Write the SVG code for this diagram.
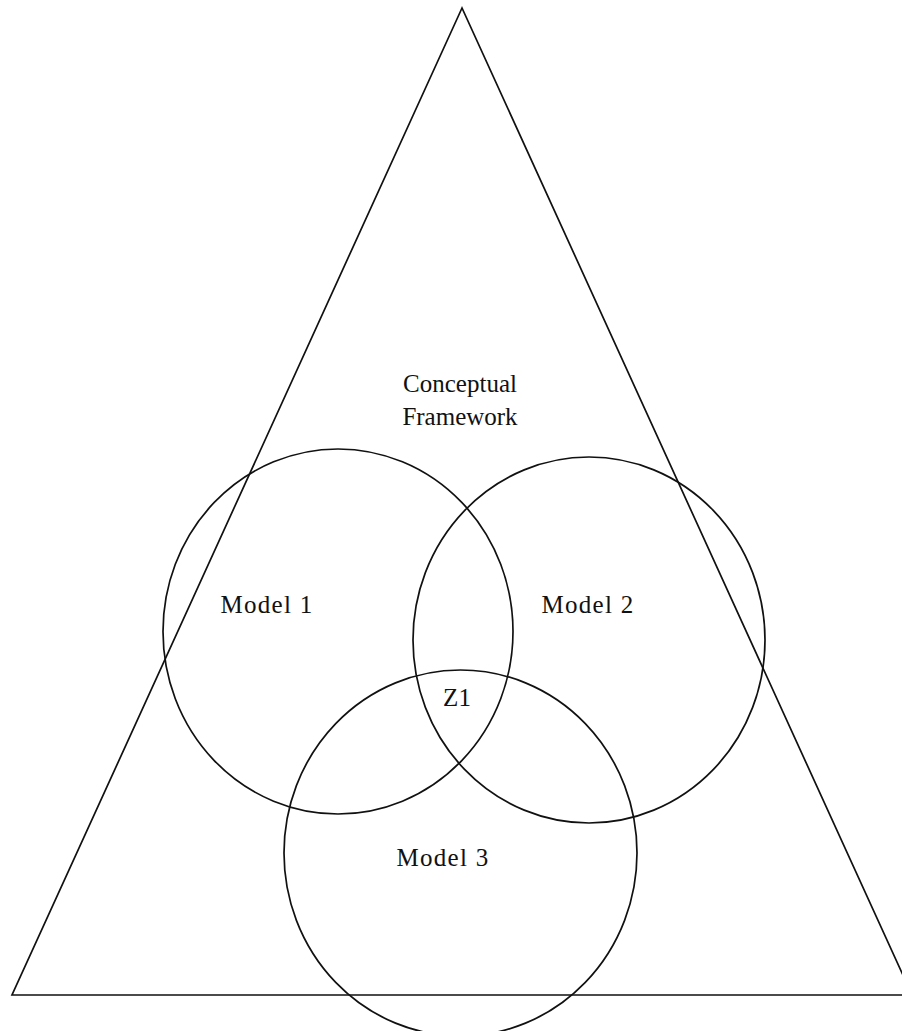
<svg xmlns="http://www.w3.org/2000/svg" width="902" height="1031" viewBox="0 0 902 1031">
<style>
.s{fill:none;stroke:#111;stroke-width:1.7}
.t{font-family:"Liberation Serif","DejaVu Serif",serif;font-size:25px;fill:#111;text-anchor:middle}
.m{letter-spacing:1.3px}
</style>
<rect width="902" height="1031" fill="#fff"/>
<g id="framework">
<polygon class="s" points="462,8 12,995 912,995"/>
<text class="t" x="460" y="392">Conceptual</text>
<text class="t" x="460" y="425">Framework</text>
</g>
<g id="model1">
<ellipse class="s" cx="338" cy="631.5" rx="175" ry="182.5"/>
<text class="t m" x="267" y="613">Model 1</text>
</g>
<g id="model2">
<ellipse class="s" cx="589" cy="640" rx="176" ry="183"/>
<text class="t m" x="588" y="613">Model 2</text>
</g>
<g id="model3">
<ellipse class="s" cx="460.5" cy="853" rx="176.5" ry="183"/>
<text class="t m" x="443" y="866">Model 3</text>
</g>
<g id="z1">
<text class="t" x="457" y="706">Z1</text>
</g>
<g id="connectors"></g>
</svg>
